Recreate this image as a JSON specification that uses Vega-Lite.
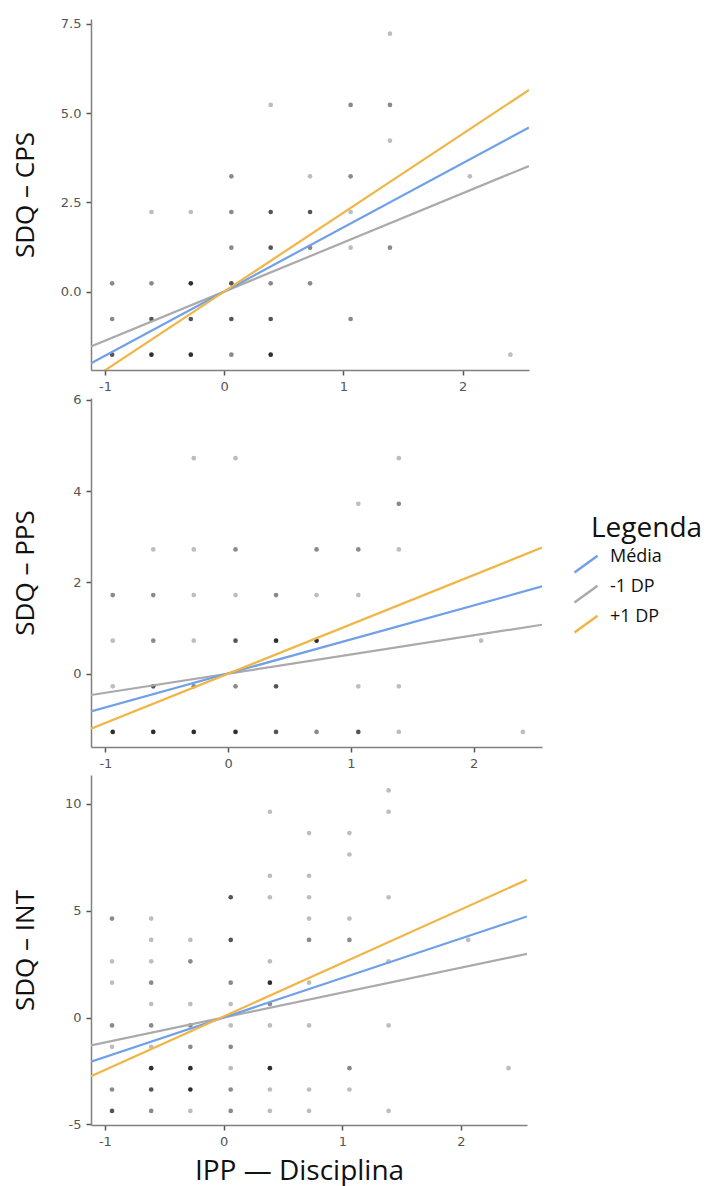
{
  "$schema": "https://vega.github.io/schema/vega-lite/v6.json",
  "padding": {"left": 12, "top": 17, "right": 5, "bottom": 5},
  "background": "white",
  "bounds": "flush",
  "spacing": 28,
  "resolve": {"scale": {"stroke": "independent", "fill": "independent"}, "legend": {"stroke": "independent", "fill": "independent"}},
  "datasets": {
    "p1": [
      {"x":1.39,"y":7.23,"n":1},
      {"x":0.39,"y":5.23,"n":1},{"x":1.06,"y":5.23,"n":2},{"x":1.39,"y":5.23,"n":2},
      {"x":1.39,"y":4.23,"n":1},
      {"x":0.06,"y":3.23,"n":2},{"x":0.72,"y":3.23,"n":1},{"x":1.06,"y":3.23,"n":2},{"x":2.06,"y":3.23,"n":1},
      {"x":-0.61,"y":2.23,"n":1},{"x":-0.28,"y":2.23,"n":1},{"x":0.06,"y":2.23,"n":2},{"x":0.39,"y":2.23,"n":3},{"x":0.72,"y":2.23,"n":3},{"x":1.06,"y":2.23,"n":1},
      {"x":0.06,"y":1.23,"n":2},{"x":0.39,"y":1.23,"n":3},{"x":0.72,"y":1.23,"n":2},{"x":1.06,"y":1.23,"n":1},{"x":1.39,"y":1.23,"n":2},
      {"x":-0.94,"y":0.23,"n":2},{"x":-0.61,"y":0.23,"n":2},{"x":-0.28,"y":0.23,"n":4},{"x":0.06,"y":0.23,"n":3},{"x":0.39,"y":0.23,"n":2},{"x":0.72,"y":0.23,"n":2},
      {"x":-0.94,"y":-0.77,"n":2},{"x":-0.61,"y":-0.77,"n":3},{"x":-0.28,"y":-0.77,"n":3},{"x":0.06,"y":-0.77,"n":3},{"x":0.39,"y":-0.77,"n":3},{"x":1.06,"y":-0.77,"n":2},
      {"x":-0.94,"y":-1.77,"n":3},{"x":-0.61,"y":-1.77,"n":4},{"x":-0.28,"y":-1.77,"n":4},{"x":0.06,"y":-1.77,"n":2},{"x":0.39,"y":-1.77,"n":4},{"x":2.40,"y":-1.77,"n":1}
    ],
    "p2": [
      {"x":-0.28,"y":4.72,"n":1},{"x":0.06,"y":4.72,"n":1},{"x":1.39,"y":4.72,"n":1},
      {"x":1.06,"y":3.72,"n":1},{"x":1.39,"y":3.72,"n":2},
      {"x":-0.61,"y":2.72,"n":1},{"x":-0.28,"y":2.72,"n":1},{"x":0.06,"y":2.72,"n":2},{"x":0.72,"y":2.72,"n":2},{"x":1.06,"y":2.72,"n":2},{"x":1.39,"y":2.72,"n":1},
      {"x":-0.94,"y":1.72,"n":2},{"x":-0.61,"y":1.72,"n":2},{"x":-0.28,"y":1.72,"n":1},{"x":0.06,"y":1.72,"n":1},{"x":0.39,"y":1.72,"n":2},{"x":0.72,"y":1.72,"n":1},{"x":1.06,"y":1.72,"n":1},
      {"x":-0.94,"y":0.72,"n":1},{"x":-0.61,"y":0.72,"n":2},{"x":-0.28,"y":0.72,"n":1},{"x":0.06,"y":0.72,"n":3},{"x":0.39,"y":0.72,"n":4},{"x":0.72,"y":0.72,"n":4},{"x":2.06,"y":0.72,"n":1},
      {"x":-0.94,"y":-0.28,"n":1},{"x":-0.61,"y":-0.28,"n":3},{"x":-0.28,"y":-0.28,"n":2},{"x":0.06,"y":-0.28,"n":2},{"x":0.39,"y":-0.28,"n":3},{"x":1.06,"y":-0.28,"n":1},{"x":1.39,"y":-0.28,"n":1},
      {"x":-0.94,"y":-1.28,"n":4},{"x":-0.61,"y":-1.28,"n":4},{"x":-0.28,"y":-1.28,"n":4},{"x":0.06,"y":-1.28,"n":4},{"x":0.39,"y":-1.28,"n":3},{"x":0.72,"y":-1.28,"n":2},{"x":1.06,"y":-1.28,"n":3},{"x":1.39,"y":-1.28,"n":1},{"x":2.40,"y":-1.28,"n":1}
    ],
    "p3": [
      {"x":1.39,"y":10.63,"n":1},
      {"x":0.39,"y":9.63,"n":1},{"x":1.39,"y":9.63,"n":1},
      {"x":0.72,"y":8.63,"n":1},{"x":1.06,"y":8.63,"n":1},
      {"x":1.06,"y":7.63,"n":1},
      {"x":0.39,"y":6.63,"n":1},{"x":0.72,"y":6.63,"n":1},
      {"x":0.06,"y":5.63,"n":3},{"x":0.39,"y":5.63,"n":1},{"x":0.72,"y":5.63,"n":1},{"x":1.39,"y":5.63,"n":1},
      {"x":-0.94,"y":4.63,"n":2},{"x":-0.61,"y":4.63,"n":1},{"x":0.72,"y":4.63,"n":1},{"x":1.06,"y":4.63,"n":1},
      {"x":-0.61,"y":3.63,"n":1},{"x":-0.28,"y":3.63,"n":1},{"x":0.06,"y":3.63,"n":3},{"x":0.72,"y":3.63,"n":2},{"x":1.06,"y":3.63,"n":2},{"x":2.06,"y":3.63,"n":1},
      {"x":-0.94,"y":2.63,"n":1},{"x":-0.61,"y":2.63,"n":1},{"x":-0.28,"y":2.63,"n":2},{"x":0.39,"y":2.63,"n":1},{"x":1.39,"y":2.63,"n":1},
      {"x":-0.94,"y":1.63,"n":1},{"x":-0.61,"y":1.63,"n":2},{"x":0.06,"y":1.63,"n":2},{"x":0.39,"y":1.63,"n":4},{"x":0.72,"y":1.63,"n":1},
      {"x":-0.61,"y":0.63,"n":1},{"x":-0.28,"y":0.63,"n":1},{"x":0.06,"y":0.63,"n":1},{"x":0.39,"y":0.63,"n":2},
      {"x":-0.94,"y":-0.37,"n":2},{"x":-0.61,"y":-0.37,"n":2},{"x":-0.28,"y":-0.37,"n":2},{"x":0.06,"y":-0.37,"n":1},{"x":0.39,"y":-0.37,"n":1},{"x":0.72,"y":-0.37,"n":1},{"x":1.39,"y":-0.37,"n":1},
      {"x":-0.94,"y":-1.37,"n":1},{"x":-0.61,"y":-1.37,"n":1},{"x":-0.28,"y":-1.37,"n":2},{"x":0.06,"y":-1.37,"n":2},
      {"x":-0.61,"y":-2.37,"n":4},{"x":-0.28,"y":-2.37,"n":4},{"x":0.06,"y":-2.37,"n":1},{"x":0.39,"y":-2.37,"n":4},{"x":1.06,"y":-2.37,"n":2},{"x":2.40,"y":-2.37,"n":1},
      {"x":-0.94,"y":-3.37,"n":2},{"x":-0.61,"y":-3.37,"n":3},{"x":-0.28,"y":-3.37,"n":4},{"x":0.06,"y":-3.37,"n":2},{"x":0.39,"y":-3.37,"n":1},{"x":0.72,"y":-3.37,"n":1},{"x":1.06,"y":-3.37,"n":1},
      {"x":-0.94,"y":-4.37,"n":3},{"x":-0.61,"y":-4.37,"n":2},{"x":-0.28,"y":-4.37,"n":1},{"x":0.06,"y":-4.37,"n":2},{"x":0.39,"y":-4.37,"n":1},{"x":0.72,"y":-4.37,"n":1},{"x":1.39,"y":-4.37,"n":1}
    ],
    "l1": [
      {"g":"-1 DP","x":-1.117,"y":-1.54},{"g":"-1 DP","x":2.556,"y":3.52},
      {"g":"Média","x":-1.117,"y":-2.01},{"g":"Média","x":2.556,"y":4.60},
      {"g":"+1 DP","x":-1.117,"y":-2.47},{"g":"+1 DP","x":2.556,"y":5.65}
    ],
    "l2": [
      {"g":"-1 DP","x":-1.117,"y":-0.47},{"g":"-1 DP","x":2.556,"y":1.07},
      {"g":"Média","x":-1.117,"y":-0.83},{"g":"Média","x":2.556,"y":1.91},
      {"g":"+1 DP","x":-1.117,"y":-1.21},{"g":"+1 DP","x":2.556,"y":2.76}
    ],
    "l3": [
      {"g":"-1 DP","x":-1.117,"y":-1.30},{"g":"-1 DP","x":2.556,"y":2.98},
      {"g":"Média","x":-1.117,"y":-2.07},{"g":"Média","x":2.556,"y":4.73},
      {"g":"+1 DP","x":-1.117,"y":-2.75},{"g":"+1 DP","x":2.556,"y":6.45}
    ]
  },
  "vconcat": [
    {
      "width": 438, "height": 351,
      "layer": [
        {
          "data": {"name": "p1"},
          "mark": {"type": "circle", "size": 22, "opacity": 1},
          "encoding": {
            "x": {"field": "x", "type": "quantitative", "scale": {"domain": [-1.117, 2.556], "nice": false, "zero": false},
                  "axis": {"values": [-1, 0, 1, 2], "labelExpr": "'' + datum.value", "title": null}},
            "y": {"field": "y", "type": "quantitative", "scale": {"domain": [-2.2, 7.64], "nice": false, "zero": false},
                  "axis": {"values": [0, 2.5, 5, 7.5], "format": ".1f", "title": "SDQ – CPS", "titleX": -53}},
            "fill": {"field": "n", "type": "ordinal", "scale": {"domain": [1, 2, 3, 4], "range": ["#bdbdbd", "#8a8a8a", "#555555", "#2e2e2e"]}, "legend": null}
          }
        },
        {
          "data": {"name": "l1"},
          "mark": {"type": "line", "strokeWidth": 2.2, "clip": true},
          "encoding": {
            "x": {"field": "x", "type": "quantitative"},
            "y": {"field": "y", "type": "quantitative"},
            "detail": {"field": "g"},
            "stroke": {"field": "g", "type": "nominal", "scale": {"domain": ["Média", "-1 DP", "+1 DP"], "range": ["#6fa0e8", "#aaaaaa", "#f0b545"]}, "legend": null}
          }
        }
      ]
    },
    {
      "width": 451, "height": 349,
      "layer": [
        {
          "data": {"name": "p2"},
          "mark": {"type": "circle", "size": 22, "opacity": 1},
          "encoding": {
            "x": {"field": "x", "type": "quantitative", "scale": {"domain": [-1.117, 2.556], "nice": false, "zero": false},
                  "axis": {"values": [-1, 0, 1, 2], "labelExpr": "'' + datum.value", "title": null}},
            "y": {"field": "y", "type": "quantitative", "scale": {"domain": [-1.61, 6.04], "nice": false, "zero": false},
                  "axis": {"values": [0, 2, 4, 6], "labelExpr": "'' + datum.value", "title": "SDQ – PPS", "titleX": -53}},
            "fill": {"field": "n", "type": "ordinal", "scale": {"domain": [1, 2, 3, 4], "range": ["#bdbdbd", "#8a8a8a", "#555555", "#2e2e2e"]}, "legend": null}
          }
        },
        {
          "data": {"name": "l2"},
          "mark": {"type": "line", "strokeWidth": 2.2, "clip": true},
          "encoding": {
            "x": {"field": "x", "type": "quantitative"},
            "y": {"field": "y", "type": "quantitative"},
            "detail": {"field": "g"},
            "stroke": {"field": "g", "type": "nominal", "title": "Legenda",
                       "scale": {"domain": ["Média", "-1 DP", "+1 DP"], "range": ["#6fa0e8", "#aaaaaa", "#f0b545"]},
                       "legend": {"orient": "none", "legendX": 500, "legendY": 117,
                                  "symbolType": "M-1.63,1.5L1.63,-0.9", "symbolSize": 200, "symbolStrokeWidth": 2.5,
                                  "symbolOffset": -14, "labelOffset": 15, "labelFontSize": 18, "labelBaseline": "alphabetic", "rowPadding": 0, "titlePadding": 10}}
          }
        }
      ]
    },
    {
      "width": 436, "height": 350,
      "layer": [
        {
          "data": {"name": "p3"},
          "mark": {"type": "circle", "size": 22, "opacity": 1},
          "encoding": {
            "x": {"field": "x", "type": "quantitative", "scale": {"domain": [-1.117, 2.556], "nice": false, "zero": false},
                  "axis": {"values": [-1, 0, 1, 2], "labelExpr": "'' + datum.value", "title": "IPP — Disciplina", "titlePadding": 9, "titleX": 208, "titleFontSize": 28}},
            "y": {"field": "y", "type": "quantitative", "scale": {"domain": [-5.03, 11.35], "nice": false, "zero": false},
                  "axis": {"values": [-5, 0, 5, 10], "labelExpr": "'' + datum.value", "title": "SDQ – INT", "titleX": -53}},
            "fill": {"field": "n", "type": "ordinal", "scale": {"domain": [1, 2, 3, 4], "range": ["#bdbdbd", "#8a8a8a", "#555555", "#2e2e2e"]}, "legend": null}
          }
        },
        {
          "data": {"name": "l3"},
          "mark": {"type": "line", "strokeWidth": 2.2, "clip": true},
          "encoding": {
            "x": {"field": "x", "type": "quantitative"},
            "y": {"field": "y", "type": "quantitative"},
            "detail": {"field": "g"},
            "stroke": {"field": "g", "type": "nominal", "scale": {"domain": ["Média", "-1 DP", "+1 DP"], "range": ["#6fa0e8", "#aaaaaa", "#f0b545"]}, "legend": null}
          }
        }
      ]
    }
  ],
  "config": {
    "view": {"stroke": null},
    "axis": {
      "grid": false,
      "domainColor": "#808080", "domainWidth": 1.5,
      "tickColor": "#555555", "tickWidth": 1.5, "tickSize": 5,
      "labelFont": "DejaVu Sans", "labelFontSize": 13, "labelColor": "#555555", "labelPadding": 5,
      "titleFont": "Open Sans", "titleFontSize": 26, "titleFontWeight": "normal", "titleColor": "#111111"
    },
    "legend": {
      "titleFont": "Open Sans", "titleFontSize": 28, "titleFontWeight": "normal", "titleColor": "#111111",
      "labelFont": "Open Sans", "labelFontSize": 18, "labelColor": "#111111"
    }
  }
}
